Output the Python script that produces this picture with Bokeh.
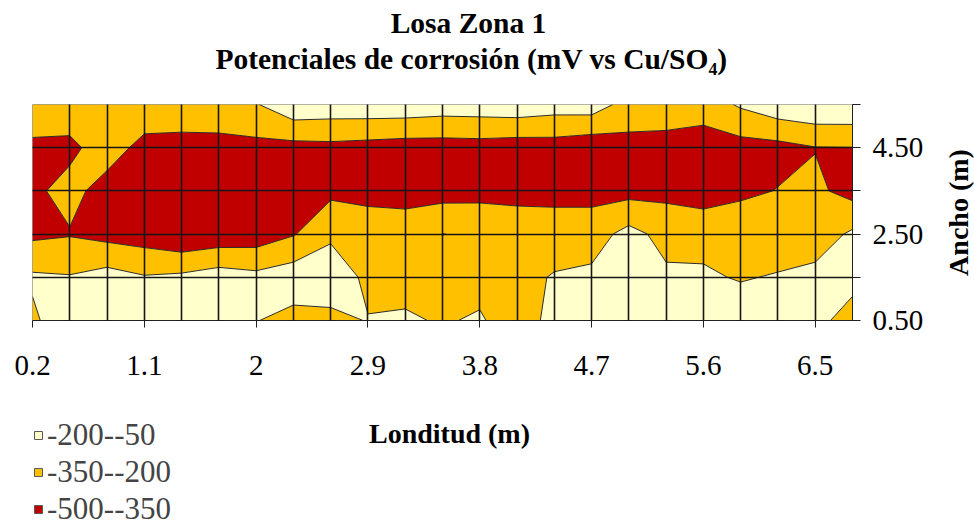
import numpy as np
from bokeh.plotting import figure
from bokeh.layouts import column, row
from bokeh.models import Range1d, FixedTicker, Label, Legend, LegendItem, ColumnDataSource
from bokeh.embed import file_html
from bokeh.resources import INLINE

# Longitud (m) categories (x) and Ancho (m) series (y)
longitud = [0.2, 0.5, 0.8, 1.1, 1.4, 1.7, 2.0, 2.3, 2.6, 2.9, 3.2, 3.5,
            3.8, 4.1, 4.4, 4.7, 5.0, 5.3, 5.6, 5.9, 6.2, 6.5, 6.8]
ancho = [0.5, 1.5, 2.5, 3.5, 4.5, 5.5]

# Potenciales (mV vs Cu/SO4), one list per ancho row
pot_05 = [-230, -87, -100, -100, -100, -100, -195, -248, -260, -191, -178, -215,
          -180, -300, -140, -120, -110, -130, -130, -120, -130, -150, -272]
pot_15 = [-176, -190, -140, -189, -170, -125, -158, -114, -60, -250, -260, -270,
          -260, -240, -190, -169, -120, -173, -182, -210, -189, -157, -143]
pot_25 = [-381, -360, -399, -423, -480, -451, -436, -360, -240, -261, -281, -198,
          -221, -257, -268, -268, -150, -250, -240, -250, -280, -280, -175]
pot_35 = [-380, -300, -416, -440, -450, -450, -440, -420, -380, -400, -400, -410,
          -400, -400, -400, -400, -400, -390, -430, -380, -345, -320, -402]
pot_45 = [-378, -385, -276, -400, -400, -400, -394, -400, -390, -404, -419, -418,
          -412, -428, -420, -452, -401, -410, -426, -408, -397, -355, -352]
pot_55 = [-260, -260, -260, -244, -261, -253, -210, -88, -105, -100, -100, -120,
          -115, -100, -130, -120, -260, -260, -280, -180, -100, -70, -70]

niveles = [-500, -350, -200, -50]
colores = ["#C00000", "#FFC000", "#FFFFCC"]
etiquetas = ["-500--350", "-350--200", "-200--50"]

x_ticks = [0.2, 1.1, 2.0, 2.9, 3.8, 4.7, 5.6, 6.5]
x_tick_labels = ["0.2", "1.1", "2", "2.9", "3.8", "4.7", "5.6", "6.5"]
y_tick_labels = ["0.50", "", "2.50", "", "4.50", ""]

titulo_1 = "Losa Zona 1"
titulo_2 = "Potenciales de corrosión (mV vs Cu/SO\u2084)"
titulo_x = "Londitud (m)"
titulo_y = "Ancho (m)"

Z = np.array([pot_05, pot_15, pot_25, pot_35, pot_45, pot_55], dtype=float)

FONT = "Liberation Serif"
W = 974
FRAME_LEFT = 32
FRAME_RIGHT = 852
W_MAIN = 927          # main chart width (frame + right tick labels)
HP = 294              # main chart height (216 frame + 78 bottom axis)


def blank(width, height, **kw):
    f = figure(width=width, height=height, x_range=Range1d(0, 1), y_range=Range1d(0, 1),
               output_backend="svg", toolbar_location=None, title=None,
               x_axis_location=None, y_axis_location=None, **kw)
    f.grid.visible = False
    f.outline_line_color = None
    f.background_fill_color = "white"
    f.border_fill_color = "white"
    return f


# ---------------- title strip ----------------
HT = 104
t = blank(W, HT, min_border_left=FRAME_LEFT, min_border_right=W - FRAME_RIGHT,
          min_border_top=0, min_border_bottom=0)
t.add_layout(Label(x=468 - FRAME_LEFT, y=HT - 22, x_units="screen", y_units="screen",
                   text=titulo_1, text_align="center", text_baseline="middle",
                   text_font=FONT, text_font_style="bold", text_font_size="29.5px",
                   text_color="black"))
t.add_layout(Label(x=471 - FRAME_LEFT, y=HT - 58, x_units="screen", y_units="screen",
                   text=titulo_2, text_align="center", text_baseline="middle",
                   text_font=FONT, text_font_style="bold", text_font_size="29.5px",
                   text_color="black"))

# ---------------- main chart ----------------
p = figure(frame_width=FRAME_RIGHT - FRAME_LEFT, frame_height=216,
           x_range=Range1d(longitud[0], longitud[-1]),
           y_range=Range1d(ancho[0], ancho[-1]),
           output_backend="svg", toolbar_location=None, title=None,
           y_axis_location="right",
           min_border_left=FRAME_LEFT, min_border_right=W_MAIN - FRAME_RIGHT,
           min_border_top=0, min_border_bottom=HP - 216)

cr = p.contour(x=longitud, y=ancho, z=Z, levels=niveles,
               fill_color=colores, line_color="#2a2a2a", line_width=1)

p.xgrid.ticker = FixedTicker(ticks=longitud)
p.ygrid.ticker = FixedTicker(ticks=ancho)
for g in (p.xgrid, p.ygrid):
    g.grid_line_color = "#151515"
    g.grid_line_width = 1.6
    g.level = "overlay"

p.outline_line_color = "#9a9a9a"

xa = p.xaxis[0]
xa.ticker = FixedTicker(ticks=x_ticks)
xa.major_label_overrides = {v: s for v, s in zip(x_ticks, x_tick_labels)}
xa.major_tick_out = 7
xa.major_tick_in = 0
xa.minor_tick_line_color = None
xa.axis_line_color = "#202020"
xa.major_tick_line_color = "#202020"
xa.major_label_standoff = 28
xa.major_label_text_font = FONT
xa.major_label_text_font_size = "29px"
xa.major_label_text_color = "black"

ya = p.yaxis[0]
ya.ticker = FixedTicker(ticks=ancho)
ya.major_label_overrides = {v: s for v, s in zip(ancho, y_tick_labels)}
ya.major_tick_out = 8
ya.major_tick_in = 0
ya.minor_tick_line_color = None
ya.axis_line_color = "#202020"
ya.major_tick_line_color = "#202020"
ya.major_label_standoff = 12
ya.major_label_text_font = FONT
ya.major_label_text_font_size = "29px"
ya.major_label_text_color = "black"

p.background_fill_color = "white"
p.border_fill_color = "white"

# ---------------- right strip: y axis title (reads bottom to top) ----------------
WR = W - W_MAIN
r = figure(width=WR, height=HP, x_range=Range1d(0, 1), y_range=Range1d(ancho[0], ancho[-1]),
           output_backend="svg", toolbar_location=None, title=None,
           x_axis_location=None, y_axis_location="left",
           min_border_left=WR - 1, min_border_right=0,
           min_border_top=0, min_border_bottom=38)
r.grid.visible = False
r.outline_line_color = None
r.background_fill_color = "white"
r.border_fill_color = "white"
ra = r.yaxis[0]
ra.ticker = FixedTicker(ticks=[])
ra.axis_line_color = None
ra.major_tick_line_color = None
ra.minor_tick_line_color = None
ra.major_tick_out = 0
ra.major_label_text_alpha = 0
ra.axis_label = titulo_y
ra.axis_label_text_font = FONT
ra.axis_label_text_font_style = "bold"
ra.axis_label_text_font_size = "28px"
ra.axis_label_text_color = "black"
ra.axis_label_standoff = 0

# ---------------- bottom strip: legend + x axis title ----------------
HB = 129
q = blank(W, HB, min_border_left=FRAME_LEFT, min_border_right=W - FRAME_RIGHT,
          min_border_top=0, min_border_bottom=0)

# legend-only renderer (no visible geometry), one row per contour band
nan3 = [float("nan")] * len(colores)
src = ColumnDataSource(dict(l=nan3, r=nan3, t=nan3, b=nan3, color=colores, label=etiquetas))
sw = q.quad(left="l", right="r", top="t", bottom="b", fill_color="color",
            line_color="#5a5a5a", line_width=1, source=src)

items = [LegendItem(label=etiquetas[k], renderers=[sw], index=k) for k in (2, 1, 0)]
lg = Legend(items=items, location=(33 - FRAME_LEFT, 0), orientation="vertical",
            glyph_width=10, glyph_height=10, label_standoff=4,
            label_text_font=FONT, label_text_font_size="31px",
            label_height=22, spacing=1, padding=0, margin=0,
            border_line_color=None, background_fill_alpha=0)
q.add_layout(lg)

q.add_layout(Label(x=449 - FRAME_LEFT, y=HB - 433 + 398, x_units="screen", y_units="screen",
                   text=titulo_x, text_align="center", text_baseline="middle",
                   text_font=FONT, text_font_style="bold", text_font_size="28px",
                   text_color="black"))

layout = column(t, row(p, r, spacing=0), q, spacing=0)
open("out.html", "w").write(file_html(layout, INLINE))
